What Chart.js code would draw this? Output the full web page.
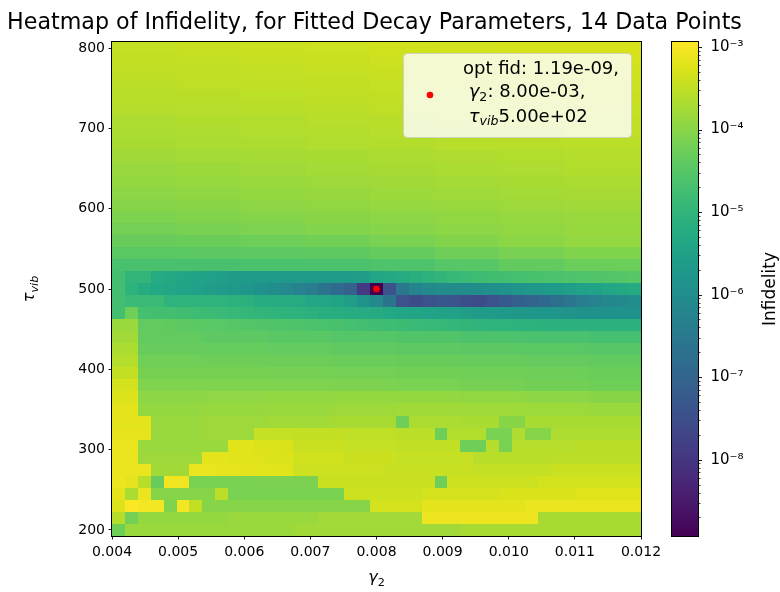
<!DOCTYPE html>
<html>
<head>
<meta charset="utf-8">
<title>Heatmap of Infidelity</title>
<script src="https://cdn.jsdelivr.net/npm/chart.js@4.4.1/dist/chart.umd.min.js"></script>
<style>
html,body{margin:0;padding:0;background:#ffffff;}
canvas{display:block;}
</style>
</head>
<body>
<canvas id="chart" width="780" height="592"></canvas>
<script>
// ---------------- data ----------------
const titleText = 'Heatmap of Infidelity, for Fitted Decay Parameters, 14 Data Points';
const gammaExtent = [0.004, 0.012];          // x extent of the image
const tauExtent = [192.5, 807.5];            // y extent of the image
const gammaTickValues = [0.004, 0.005, 0.006, 0.007, 0.008, 0.009, 0.010, 0.011, 0.012];
const tauTickValues = [200, 300, 400, 500, 600, 700, 800];
const cbarMajorExponents = [-8, -7, -6, -5, -4, -3];
const infidelityRange = [1.19e-9, 1.15e-3];
const optPoint = [{ x: 0.008, y: 500 }];
const legendLines = ['opt fid: 1.19e-09,', '8.00e-03,', '5.00e+02'];
// rows top (tau = 800) to bottom (tau = 200)
const tauValues = [800,785,770,755,740,725,710,695,680,665,650,635,620,605,590,575,560,545,530,515,500,485,470,455,440,425,410,395,380,365,350,335,320,305,290,275,260,245,230,215,200];
// log10(infidelity), one row per tau value, 41 gamma columns (left to right)
const log10Infidelity = [
/*800*/[-3.45,-3.45,-3.45,-3.45,-3.45,-3.43,-3.43,-3.43,-3.43,-3.43,-3.41,-3.41,-3.41,-3.41,-3.41,-3.39,-3.39,-3.39,-3.39,-3.39,-3.36,-3.36,-3.36,-3.36,-3.36,-3.34,-3.34,-3.34,-3.34,-3.34,-3.32,-3.32,-3.32,-3.32,-3.32,-3.30,-3.30,-3.30,-3.30,-3.30,-3.30],
/*785*/[-3.48,-3.48,-3.48,-3.48,-3.48,-3.46,-3.46,-3.46,-3.46,-3.46,-3.44,-3.44,-3.44,-3.44,-3.44,-3.42,-3.42,-3.42,-3.42,-3.42,-3.39,-3.39,-3.39,-3.39,-3.39,-3.37,-3.37,-3.37,-3.37,-3.37,-3.35,-3.35,-3.35,-3.35,-3.35,-3.33,-3.33,-3.33,-3.33,-3.33,-3.33],
/*770*/[-3.51,-3.51,-3.51,-3.51,-3.51,-3.49,-3.49,-3.49,-3.49,-3.49,-3.47,-3.47,-3.47,-3.47,-3.47,-3.45,-3.45,-3.45,-3.45,-3.45,-3.42,-3.42,-3.42,-3.42,-3.42,-3.40,-3.40,-3.40,-3.40,-3.40,-3.38,-3.38,-3.38,-3.38,-3.38,-3.36,-3.36,-3.36,-3.36,-3.36,-3.36],
/*755*/[-3.54,-3.54,-3.54,-3.54,-3.54,-3.52,-3.52,-3.52,-3.52,-3.52,-3.50,-3.50,-3.50,-3.50,-3.50,-3.48,-3.48,-3.48,-3.48,-3.48,-3.45,-3.45,-3.45,-3.45,-3.45,-3.43,-3.43,-3.43,-3.43,-3.43,-3.41,-3.41,-3.41,-3.41,-3.41,-3.39,-3.39,-3.39,-3.39,-3.39,-3.39],
/*740*/[-3.57,-3.57,-3.57,-3.57,-3.57,-3.55,-3.55,-3.55,-3.55,-3.55,-3.53,-3.53,-3.53,-3.53,-3.53,-3.51,-3.51,-3.51,-3.51,-3.51,-3.48,-3.48,-3.48,-3.48,-3.48,-3.46,-3.46,-3.46,-3.46,-3.46,-3.44,-3.44,-3.44,-3.44,-3.44,-3.42,-3.42,-3.42,-3.42,-3.42,-3.42],
/*725*/[-3.60,-3.60,-3.60,-3.60,-3.60,-3.58,-3.58,-3.58,-3.58,-3.58,-3.56,-3.56,-3.56,-3.56,-3.56,-3.54,-3.54,-3.54,-3.54,-3.54,-3.51,-3.51,-3.51,-3.51,-3.51,-3.49,-3.49,-3.49,-3.49,-3.49,-3.47,-3.47,-3.47,-3.47,-3.47,-3.45,-3.45,-3.45,-3.45,-3.45,-3.45],
/*710*/[-3.66,-3.66,-3.66,-3.66,-3.66,-3.63,-3.63,-3.63,-3.63,-3.63,-3.61,-3.61,-3.61,-3.61,-3.61,-3.58,-3.58,-3.58,-3.58,-3.58,-3.56,-3.56,-3.56,-3.56,-3.56,-3.53,-3.53,-3.53,-3.53,-3.53,-3.51,-3.51,-3.51,-3.51,-3.51,-3.48,-3.48,-3.48,-3.48,-3.48,-3.48],
/*695*/[-3.69,-3.69,-3.69,-3.69,-3.69,-3.66,-3.66,-3.66,-3.66,-3.66,-3.64,-3.64,-3.64,-3.64,-3.64,-3.61,-3.61,-3.61,-3.61,-3.61,-3.59,-3.59,-3.59,-3.59,-3.59,-3.56,-3.56,-3.56,-3.56,-3.56,-3.54,-3.54,-3.54,-3.54,-3.54,-3.51,-3.51,-3.51,-3.51,-3.51,-3.51],
/*680*/[-3.72,-3.72,-3.72,-3.72,-3.72,-3.69,-3.69,-3.69,-3.69,-3.69,-3.67,-3.67,-3.67,-3.67,-3.67,-3.64,-3.64,-3.64,-3.64,-3.64,-3.62,-3.62,-3.62,-3.62,-3.62,-3.59,-3.59,-3.59,-3.59,-3.59,-3.57,-3.57,-3.57,-3.57,-3.57,-3.54,-3.54,-3.54,-3.54,-3.54,-3.54],
/*665*/[-3.78,-3.78,-3.78,-3.78,-3.78,-3.75,-3.75,-3.75,-3.75,-3.75,-3.73,-3.73,-3.73,-3.73,-3.73,-3.70,-3.70,-3.70,-3.70,-3.70,-3.68,-3.68,-3.68,-3.68,-3.68,-3.65,-3.65,-3.65,-3.65,-3.65,-3.63,-3.63,-3.63,-3.63,-3.63,-3.60,-3.60,-3.60,-3.60,-3.60,-3.60],
/*650*/[-3.84,-3.84,-3.84,-3.84,-3.84,-3.81,-3.81,-3.81,-3.81,-3.81,-3.78,-3.78,-3.78,-3.78,-3.78,-3.75,-3.75,-3.75,-3.75,-3.75,-3.72,-3.72,-3.72,-3.72,-3.72,-3.69,-3.69,-3.69,-3.69,-3.69,-3.66,-3.66,-3.66,-3.66,-3.66,-3.63,-3.63,-3.63,-3.63,-3.63,-3.63],
/*635*/[-3.90,-3.90,-3.90,-3.90,-3.90,-3.87,-3.87,-3.87,-3.87,-3.87,-3.84,-3.84,-3.84,-3.84,-3.84,-3.81,-3.81,-3.81,-3.81,-3.81,-3.78,-3.78,-3.78,-3.78,-3.78,-3.75,-3.75,-3.75,-3.75,-3.75,-3.72,-3.72,-3.72,-3.72,-3.72,-3.69,-3.69,-3.69,-3.69,-3.69,-3.69],
/*620*/[-3.96,-3.96,-3.96,-3.96,-3.96,-3.93,-3.93,-3.93,-3.93,-3.93,-3.89,-3.89,-3.89,-3.89,-3.89,-3.86,-3.86,-3.86,-3.86,-3.86,-3.82,-3.82,-3.82,-3.82,-3.82,-3.79,-3.79,-3.79,-3.79,-3.79,-3.75,-3.75,-3.75,-3.75,-3.75,-3.72,-3.72,-3.72,-3.72,-3.72,-3.72],
/*605*/[-4.02,-4.02,-4.02,-4.02,-4.02,-3.99,-3.99,-3.99,-3.99,-3.99,-3.95,-3.95,-3.95,-3.95,-3.95,-3.92,-3.92,-3.92,-3.92,-3.92,-3.88,-3.88,-3.88,-3.88,-3.88,-3.85,-3.85,-3.85,-3.85,-3.85,-3.81,-3.81,-3.81,-3.81,-3.81,-3.78,-3.78,-3.78,-3.78,-3.78,-3.78],
/*590*/[-4.11,-4.11,-4.11,-4.11,-4.11,-4.07,-4.07,-4.07,-4.07,-4.07,-4.03,-4.03,-4.03,-4.03,-4.03,-3.99,-3.99,-3.99,-3.99,-3.99,-3.96,-3.96,-3.96,-3.96,-3.96,-3.92,-3.92,-3.92,-3.92,-3.92,-3.88,-3.88,-3.88,-3.88,-3.88,-3.84,-3.84,-3.84,-3.84,-3.84,-3.84],
/*575*/[-4.20,-4.20,-4.20,-4.20,-4.20,-4.15,-4.15,-4.15,-4.15,-4.15,-4.11,-4.11,-4.11,-4.11,-4.11,-4.06,-4.06,-4.06,-4.06,-4.06,-4.01,-4.01,-4.01,-4.01,-4.01,-3.96,-3.96,-3.96,-3.96,-3.96,-3.92,-3.92,-3.92,-3.92,-3.92,-3.87,-3.87,-3.87,-3.87,-3.87,-3.87],
/*560*/[-4.32,-4.32,-4.32,-4.32,-4.32,-4.29,-4.29,-4.29,-4.29,-4.29,-4.26,-4.26,-4.26,-4.26,-4.26,-4.22,-4.22,-4.22,-4.22,-4.22,-4.14,-4.14,-4.14,-4.14,-4.14,-4.05,-4.05,-4.05,-4.05,-4.05,-3.97,-3.97,-3.97,-3.97,-3.97,-3.90,-3.90,-3.90,-3.90,-3.90,-3.90],
/*545*/[-4.47,-4.47,-4.47,-4.47,-4.47,-4.45,-4.45,-4.45,-4.45,-4.45,-4.43,-4.43,-4.43,-4.43,-4.43,-4.41,-4.41,-4.41,-4.41,-4.41,-4.35,-4.35,-4.35,-4.35,-4.35,-4.25,-4.25,-4.25,-4.25,-4.25,-4.15,-4.15,-4.15,-4.15,-4.15,-4.08,-4.08,-4.08,-4.08,-4.08,-4.08],
/*530*/[-4.68,-4.68,-4.68,-4.68,-4.68,-4.68,-4.68,-4.68,-4.68,-4.68,-4.66,-4.66,-4.66,-4.66,-4.66,-4.64,-4.64,-4.64,-4.64,-4.64,-4.60,-4.60,-4.60,-4.60,-4.60,-4.50,-4.50,-4.50,-4.50,-4.50,-4.38,-4.38,-4.38,-4.38,-4.38,-4.28,-4.28,-4.28,-4.28,-4.28,-4.28],
/*515*/[-4.74,-4.98,-4.98,-5.28,-5.34,-5.40,-5.45,-5.51,-5.57,-5.63,-5.66,-5.69,-5.69,-5.69,-5.69,-5.69,-5.69,-5.66,-5.63,-5.60,-5.40,-5.34,-5.28,-5.16,-5.07,-4.98,-4.92,-4.86,-4.80,-4.77,-4.74,-4.71,-4.68,-4.65,-4.62,-4.60,-4.58,-4.56,-4.54,-4.52,-4.50],
/*500*/[-4.74,-5.04,-5.22,-5.34,-5.39,-5.45,-5.51,-5.57,-5.63,-5.69,-5.81,-5.87,-5.99,-6.11,-6.29,-6.41,-6.65,-6.83,-7.07,-7.91,-8.924,-7.43,-6.53,-6.23,-6.11,-6.05,-6.05,-6.05,-5.99,-5.93,-5.87,-5.81,-5.75,-5.69,-5.63,-5.57,-5.51,-5.45,-5.39,-5.34,-5.28],
/*485*/[-4.74,-4.86,-4.86,-4.86,-5.04,-5.04,-5.04,-5.04,-5.04,-5.07,-5.10,-5.22,-5.22,-5.25,-5.28,-5.39,-5.39,-5.42,-5.57,-5.87,-6.11,-6.65,-7.43,-7.55,-7.43,-7.31,-7.37,-7.49,-7.55,-7.43,-7.25,-7.13,-7.01,-6.89,-6.71,-6.59,-6.41,-6.29,-6.17,-6.11,-5.99],
/*470*/[-4.74,-4.26,-4.71,-4.74,-4.74,-4.77,-4.80,-4.83,-4.86,-4.92,-4.95,-4.98,-5.01,-5.04,-5.07,-5.10,-5.16,-5.19,-5.22,-5.25,-5.28,-5.34,-5.37,-5.40,-5.45,-5.48,-5.51,-5.57,-5.63,-5.66,-5.69,-5.72,-5.75,-5.78,-5.81,-5.84,-5.87,-5.87,-5.87,-5.87,-5.87],
/*455*/[-3.84,-3.84,-4.38,-4.38,-4.40,-4.42,-4.44,-4.46,-4.48,-4.50,-4.52,-4.54,-4.56,-4.58,-4.60,-4.62,-4.65,-4.68,-4.71,-4.74,-4.77,-4.80,-4.83,-4.86,-4.89,-4.92,-4.95,-4.98,-5.01,-5.04,-5.04,-5.07,-5.07,-5.10,-5.10,-5.10,-5.10,-5.10,-5.10,-5.10,-5.10],
/*440*/[-3.78,-3.78,-4.38,-4.38,-4.38,-4.38,-4.38,-4.42,-4.42,-4.42,-4.42,-4.42,-4.47,-4.47,-4.47,-4.47,-4.47,-4.52,-4.52,-4.52,-4.52,-4.52,-4.57,-4.57,-4.57,-4.57,-4.57,-4.62,-4.62,-4.62,-4.62,-4.62,-4.67,-4.67,-4.67,-4.67,-4.67,-4.72,-4.72,-4.72,-4.72],
/*425*/[-3.69,-3.69,-4.32,-4.32,-4.32,-4.32,-4.32,-4.34,-4.34,-4.34,-4.34,-4.34,-4.37,-4.37,-4.37,-4.37,-4.37,-4.40,-4.40,-4.40,-4.40,-4.40,-4.43,-4.43,-4.43,-4.43,-4.43,-4.45,-4.45,-4.45,-4.45,-4.45,-4.47,-4.47,-4.47,-4.47,-4.47,-4.50,-4.50,-4.50,-4.50],
/*410*/[-3.60,-3.60,-4.24,-4.24,-4.24,-4.24,-4.24,-4.25,-4.25,-4.25,-4.25,-4.25,-4.27,-4.27,-4.27,-4.27,-4.27,-4.29,-4.29,-4.29,-4.29,-4.29,-4.31,-4.31,-4.31,-4.31,-4.31,-4.33,-4.33,-4.33,-4.33,-4.33,-4.35,-4.35,-4.35,-4.35,-4.35,-4.38,-4.38,-4.38,-4.38],
/*395*/[-3.48,-3.48,-4.17,-4.17,-4.17,-4.17,-4.17,-4.17,-4.17,-4.17,-4.17,-4.17,-4.18,-4.18,-4.18,-4.18,-4.18,-4.20,-4.20,-4.20,-4.20,-4.20,-4.22,-4.22,-4.22,-4.22,-4.22,-4.24,-4.24,-4.24,-4.24,-4.24,-4.26,-4.26,-4.26,-4.26,-4.26,-4.29,-4.29,-4.29,-4.29],
/*380*/[-3.33,-3.33,-4.08,-4.08,-4.08,-4.08,-4.08,-4.08,-4.08,-4.08,-4.08,-4.08,-4.09,-4.09,-4.09,-4.09,-4.09,-4.11,-4.11,-4.11,-4.11,-4.11,-4.14,-4.14,-4.14,-4.14,-4.14,-4.18,-4.18,-4.18,-4.18,-4.18,-4.22,-4.22,-4.22,-4.22,-4.22,-4.26,-4.26,-4.26,-4.26],
/*365*/[-3.24,-3.24,-3.96,-3.96,-3.96,-3.96,-3.96,-3.94,-3.94,-3.94,-3.94,-3.94,-3.92,-3.92,-3.92,-3.92,-3.92,-3.90,-3.90,-3.90,-3.90,-3.90,-3.90,-3.90,-3.90,-3.90,-3.90,-3.92,-3.92,-3.92,-3.92,-3.92,-3.96,-3.96,-3.96,-3.96,-3.96,-4.00,-4.00,-4.00,-4.00],
/*350*/[-3.18,-3.18,-3.90,-3.90,-3.90,-3.90,-3.90,-3.87,-3.87,-3.87,-3.87,-3.87,-3.84,-3.84,-3.84,-3.84,-3.84,-3.81,-3.81,-3.81,-3.81,-3.81,-3.79,-3.79,-3.79,-3.79,-3.79,-3.80,-3.80,-3.80,-3.80,-3.80,-3.82,-3.82,-3.82,-3.82,-3.82,-3.84,-3.84,-3.84,-3.84],
/*335*/[-3.18,-3.18,-3.18,-3.84,-3.84,-3.84,-3.84,-3.81,-3.81,-3.81,-3.81,-3.81,-3.77,-3.77,-3.77,-3.77,-3.77,-3.72,-3.72,-3.72,-3.72,-3.72,-4.26,-3.68,-3.68,-3.68,-3.68,-3.70,-3.70,-3.70,-4.00,-4.00,-3.72,-3.72,-3.72,-3.72,-3.72,-3.72,-3.72,-3.72,-3.72],
/*320*/[-3.15,-3.15,-3.15,-3.84,-3.84,-3.84,-3.84,-3.81,-3.81,-3.81,-3.81,-3.45,-3.45,-3.45,-3.48,-3.48,-3.48,-3.48,-3.51,-3.51,-3.51,-3.51,-3.54,-3.54,-3.54,-4.26,-3.63,-3.63,-3.63,-4.14,-4.14,-3.66,-4.02,-4.02,-3.66,-3.66,-3.66,-3.66,-3.66,-3.66,-3.66],
/*305*/[-3.12,-3.12,-3.84,-3.84,-3.84,-3.84,-3.84,-3.84,-3.84,-3.21,-3.21,-3.24,-3.24,-3.27,-3.42,-3.42,-3.42,-3.42,-3.45,-3.45,-3.45,-3.45,-3.50,-3.50,-3.50,-3.50,-3.50,-4.26,-4.26,-3.60,-4.14,-3.58,-3.58,-3.58,-3.58,-3.58,-3.55,-3.55,-3.55,-3.55,-3.55],
/*290*/[-3.12,-3.12,-3.81,-3.81,-3.81,-3.81,-3.81,-3.18,-3.18,-3.20,-3.21,-3.22,-3.24,-3.25,-3.36,-3.36,-3.36,-3.36,-3.40,-3.40,-3.40,-3.40,-3.45,-3.45,-3.45,-3.45,-3.45,-3.45,-3.56,-3.56,-3.56,-3.56,-3.56,-3.56,-3.54,-3.54,-3.54,-3.54,-3.54,-3.54,-3.54],
/*275*/[-3.12,-3.12,-3.12,-3.78,-3.78,-3.78,-3.12,-3.13,-3.15,-3.16,-3.18,-3.19,-3.20,-3.21,-3.39,-3.39,-3.39,-3.39,-3.39,-3.39,-3.39,-3.43,-3.43,-3.43,-3.43,-3.43,-3.43,-3.43,-3.47,-3.47,-3.47,-3.47,-3.47,-3.47,-3.41,-3.41,-3.41,-3.41,-3.41,-3.41,-3.41],
/*260*/[-3.09,-3.15,-3.57,-4.32,-3.06,-3.06,-4.14,-4.14,-4.14,-4.14,-4.14,-4.12,-4.12,-4.12,-4.12,-4.12,-3.42,-3.42,-3.42,-3.42,-3.42,-3.42,-3.42,-3.42,-3.42,-4.26,-3.39,-3.39,-3.39,-3.39,-3.39,-3.39,-3.39,-3.34,-3.34,-3.34,-3.34,-3.34,-3.34,-3.34,-3.34],
/*245*/[-3.18,-3.69,-3.12,-4.02,-4.02,-4.02,-4.02,-4.02,-3.54,-4.14,-4.14,-4.14,-4.14,-4.14,-4.14,-4.14,-4.14,-4.14,-3.39,-3.39,-3.39,-3.39,-3.39,-3.39,-3.33,-3.33,-3.33,-3.33,-3.33,-3.33,-3.27,-3.27,-3.27,-3.27,-3.27,-3.27,-3.22,-3.22,-3.22,-3.22,-3.22],
/*230*/[-3.24,-2.95,-3.03,-3.03,-4.08,-3.03,-3.48,-4.02,-4.02,-4.02,-4.02,-4.02,-4.02,-4.02,-4.02,-4.02,-4.02,-4.02,-4.02,-4.02,-3.33,-3.33,-3.33,-3.33,-3.18,-3.18,-3.18,-3.18,-3.18,-3.18,-3.18,-3.18,-3.12,-3.12,-3.12,-3.12,-3.12,-3.12,-3.12,-3.12,-3.12],
/*215*/[-3.60,-4.20,-3.90,-3.90,-3.90,-3.90,-3.90,-3.90,-3.90,-3.84,-3.84,-3.84,-3.84,-3.84,-3.84,-3.84,-3.76,-3.76,-3.76,-3.76,-3.76,-3.76,-3.76,-3.76,-3.09,-3.09,-3.09,-3.09,-3.09,-3.09,-3.09,-3.09,-3.09,-3.72,-3.72,-3.72,-3.72,-3.72,-3.72,-3.72,-3.72],
/*200*/[-4.26,-3.84,-3.84,-3.84,-3.84,-3.84,-3.84,-3.84,-3.84,-3.84,-3.84,-3.84,-3.84,-3.84,-3.78,-3.78,-3.78,-3.78,-3.78,-3.78,-3.78,-3.78,-3.78,-3.78,-3.78,-3.78,-3.78,-3.72,-3.72,-3.72,-3.72,-3.72,-3.72,-3.72,-3.72,-3.72,-3.72,-3.72,-3.72,-3.72,-3.72]
];

// ---------------- colour map ----------------
const viridisStops = ['#440154','#481467','#482576','#453781','#404688','#39568c','#33638d','#2d708e','#287d8e','#238a8d','#1f968b','#20a387','#29af7f','#3cbb75','#55c667','#73d055','#95d840','#b8de29','#dce319','#fde725'];
const viridisRGB = viridisStops.map(h => [parseInt(h.substr(1,2),16), parseInt(h.substr(3,2),16), parseInt(h.substr(5,2),16)]);
function viridis(t) {
  t = Math.max(0, Math.min(1, t));
  const p = t * (viridisRGB.length - 1);
  const i = Math.min(Math.floor(p), viridisRGB.length - 2);
  const f = p - i;
  const a = viridisRGB[i], b = viridisRGB[i + 1];
  return 'rgb(' + Math.round(a[0] + (b[0]-a[0])*f) + ',' + Math.round(a[1] + (b[1]-a[1])*f) + ',' + Math.round(a[2] + (b[2]-a[2])*f) + ')';
}
const logLo = Math.log10(infidelityRange[0]);
const logHi = Math.log10(infidelityRange[1]);

const FONT = '"DejaVu Sans", "Liberation Sans", sans-serif';
function partFont(p, size) {
  const s = p.sub ? size * 0.7 : size;
  return (p.it ? 'italic ' : '') + s.toFixed(2) + 'px ' + FONT;
}
function mathWidth(ctx, parts, size) {
  let w = 0;
  for (const p of parts) { ctx.font = partFont(p, size); w += ctx.measureText(p.t).width; }
  return w;
}
function drawMath(ctx, parts, x, y, size, align) {
  const w = mathWidth(ctx, parts, size);
  let cx = align === 'center' ? x - w / 2 : x;
  ctx.textAlign = 'left';
  ctx.textBaseline = 'alphabetic';
  for (const p of parts) {
    ctx.font = partFont(p, size);
    ctx.fillText(p.t, cx, y + (p.sub ? size * 0.22 : 0));
    cx += ctx.measureText(p.t).width;
  }
}

const supMap = {'-':'\u207B','0':'\u2070','1':'\u00B9','2':'\u00B2','3':'\u00B3','4':'\u2074','5':'\u2075','6':'\u2076','7':'\u2077','8':'\u2078','9':'\u2079'};
function supText(n) { return String(n).split('').map(ch => supMap[ch]).join(''); }

const cbarTicks = [];
for (let e = -9; e <= -3; e++) {
  for (let m = 1; m <= 9; m++) {
    const v = m * Math.pow(10, e);
    if (v >= infidelityRange[0] && v <= infidelityRange[1]) cbarTicks.push({ value: v, major: m === 1 && cbarMajorExponents.includes(e) });
  }
}

const heatmapPlugin = {
  id: 'heatmap',
  beforeDatasetsDraw(chart) {
    const { ctx, chartArea: a, scales: { x, y } } = chart;
    const nR = log10Infidelity.length, nC = log10Infidelity[0].length;
    const dG = (gammaExtent[1] - gammaExtent[0]) / nC;
    const halfT = (tauExtent[1] - tauExtent[0]) / nR / 2;
    ctx.save();
    ctx.beginPath(); ctx.rect(a.left, a.top, a.width, a.height); ctx.clip();
    for (let r = 0; r < nR; r++) {
      const py0 = Math.round(y.getPixelForValue(tauValues[r] + halfT));
      const py1 = Math.round(y.getPixelForValue(tauValues[r] - halfT));
      for (let c = 0; c < nC; c++) {
        const px0 = Math.round(x.getPixelForValue(gammaExtent[0] + c * dG));
        const px1 = Math.round(x.getPixelForValue(gammaExtent[0] + (c + 1) * dG));
        ctx.fillStyle = viridis((log10Infidelity[r][c] - logLo) / (logHi - logLo));
        ctx.fillRect(px0, py0, px1 - px0, py1 - py0);
      }
    }
    ctx.restore();
  },
  afterDraw(chart) {
    const { ctx, chartArea: a, scales: { cb } } = chart;
    ctx.save();
    // frame
    ctx.strokeStyle = '#000'; ctx.lineWidth = 1;
    ctx.strokeRect(a.left - 0.5, a.top - 0.5, a.width + 1, a.height + 1);

    // title
    ctx.fillStyle = '#000';
    ctx.font = '22.2px ' + FONT; ctx.textAlign = 'center'; ctx.textBaseline = 'alphabetic';
    ctx.fillText(titleText, (a.left + a.right) / 2 - 2, 29);

    // axis labels
    drawMath(ctx, [{ t: '\u03B3', it: true }, { t: '2', sub: true }], (a.left + a.right) / 2, 582, 16, 'center');
    ctx.save();
    ctx.translate(34, (a.top + a.bottom) / 2);
    ctx.rotate(-Math.PI / 2);
    drawMath(ctx, [{ t: '\u03C4', it: true }, { t: 'vib', it: true, sub: true }], 0, 0, 16, 'center');
    ctx.restore();

    // colorbar (drawn just left of the colour scale axis)
    const barR = cb.left, barL = barR - 26;
    const g = ctx.createLinearGradient(0, cb.bottom, 0, cb.top);
    viridisStops.forEach((c, i) => g.addColorStop(i / (viridisStops.length - 1), c));
    ctx.fillStyle = g;
    ctx.fillRect(barL, cb.top, barR - barL, cb.bottom - cb.top);
    ctx.strokeStyle = '#000'; ctx.lineWidth = 1;
    ctx.strokeRect(barL - 0.5, cb.top - 0.5, barR - barL + 1, cb.bottom - cb.top + 1);
    for (const t of cb.ticks) {
      const py = Math.round(cb.getPixelForValue(t.value)) + 0.5;
      ctx.lineWidth = t.major ? 0.9 : 0.7;
      ctx.beginPath(); ctx.moveTo(barR + 0.5, py); ctx.lineTo(barR + 0.5 + (t.major ? 3.5 : 2), py); ctx.stroke();
    }
    ctx.save();
    ctx.translate(775, (cb.top + cb.bottom) / 2);
    ctx.rotate(-Math.PI / 2);
    ctx.fillStyle = '#000';
    ctx.font = '17px ' + FONT; ctx.textAlign = 'center'; ctx.textBaseline = 'alphabetic';
    ctx.fillText('Infidelity', 0, 0);
    ctx.restore();

    // legend
    const bx = a.right - 238, by = a.top + 11, bw = 228, bh = 84;
    ctx.beginPath();
    ctx.roundRect(bx + 0.5, by + 0.5, bw, bh, 4);
    ctx.fillStyle = 'rgba(255,255,255,0.8)'; ctx.fill();
    ctx.strokeStyle = 'rgba(204,204,204,0.8)'; ctx.lineWidth = 1; ctx.stroke();
    ctx.beginPath(); ctx.arc(bx + 27, by + 42, 3.3, 0, Math.PI * 2); ctx.fillStyle = '#ff0000'; ctx.fill();
    ctx.fillStyle = '#000';
    const ls = 18, tx = bx + 60;
    drawMath(ctx, [{ t: legendLines[0] }], tx, by + 20.5, ls, 'left');
    drawMath(ctx, [{ t: ' ' }, { t: '\u03B3', it: true }, { t: '2', sub: true }, { t: ': ' + legendLines[1] }], tx, by + 44, ls, 'left');
    drawMath(ctx, [{ t: ' ' }, { t: '\u03C4', it: true }, { t: 'vib', it: true, sub: true }, { t: legendLines[2] }], tx, by + 68.5, ls, 'left');
    ctx.restore();
  }
};

const tickFont = { family: FONT, size: 14 };
new Chart(document.getElementById('chart'), {
  type: 'scatter',
  data: {
    datasets: [{
      data: optPoint,
      backgroundColor: '#ff0000',
      borderColor: '#ff0000',
      borderWidth: 0,
      pointRadius: 3.3,
      pointHoverRadius: 3.3
    }]
  },
  options: {
    responsive: false,
    devicePixelRatio: 1,
    animation: false,
    events: [],
    layout: { padding: { top: 42, left: 0, right: 0, bottom: 0 } },
    plugins: { legend: { display: false }, title: { display: false }, tooltip: { enabled: false } },
    scales: {
      x: {
        type: 'linear', position: 'bottom', min: gammaExtent[0], max: gammaExtent[1], bounds: 'data',
        afterBuildTicks: s => { s.ticks = gammaTickValues.map(v => ({ value: v })); },
        afterFit: s => { s.height = 56; },
        ticks: { autoSkip: false, maxRotation: 0, padding: 4.5, color: '#000', font: tickFont, callback: v => Number(v).toFixed(3) },
        grid: { display: true, drawOnChartArea: false, drawTicks: true, tickLength: 3.5, color: '#000', lineWidth: 0.9 },
        border: { display: false }
      },
      y: {
        type: 'linear', position: 'left', min: tauExtent[0], max: tauExtent[1], bounds: 'data',
        afterBuildTicks: s => { s.ticks = tauTickValues.map(v => ({ value: v })); },
        afterFit: s => { s.width = 112; },
        ticks: { autoSkip: false, padding: 3.5, color: '#000', font: tickFont, callback: v => String(v) },
        grid: { display: true, drawOnChartArea: false, drawTicks: true, tickLength: 3.5, color: '#000', lineWidth: 0.9 },
        border: { display: false }
      },
      gap: {
        type: 'linear', position: 'right', weight: 0, min: 0, max: 1,
        afterFit: s => { s.width = 57; },
        ticks: { display: false },
        grid: { display: false, drawTicks: false },
        border: { display: false }
      },
      cb: {
        type: 'logarithmic', position: 'right', weight: 1, min: infidelityRange[0], max: infidelityRange[1], bounds: 'data',
        afterBuildTicks: s => { s.ticks = cbarTicks.map(t => ({ value: t.value, major: t.major })); },
        afterFit: s => { s.width = 82; },
        ticks: {
          autoSkip: false, padding: 9, color: '#000', font: { family: FONT, size: 15 },
          callback: (v) => {
            const e = Math.round(Math.log10(v));
            return (Math.abs(Math.log10(v) - e) < 1e-6 && cbarMajorExponents.includes(e)) ? '10' + supText(e) : '';
          }
        },
        grid: { display: true, drawOnChartArea: false, drawTicks: true, tickLength: 3.5, color: 'rgba(0,0,0,0)' },
        border: { display: false }
      }
    }
  },
  plugins: [heatmapPlugin]
});
</script>
</body>
</html>
